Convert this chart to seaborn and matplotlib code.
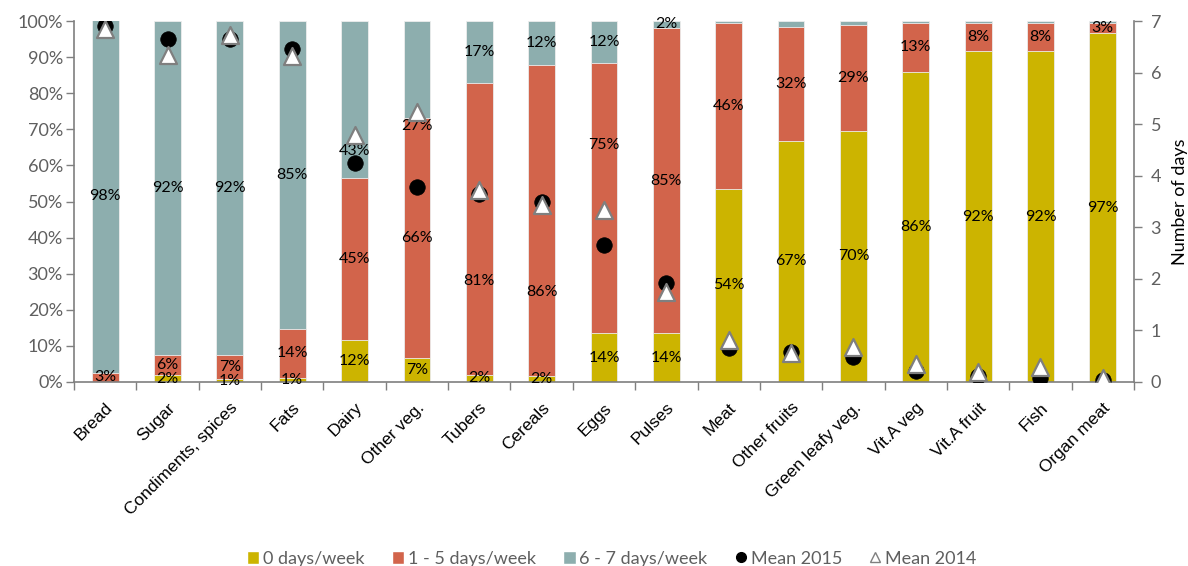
import numpy as np
import pandas as pd
import matplotlib
matplotlib.use("Agg")
import matplotlib.pyplot as plt
import seaborn as sns
from matplotlib.lines import Line2D
from matplotlib.patches import Patch
from matplotlib.ticker import FixedLocator

# ---------------- data ----------------
categories = ["Bread", "Sugar", "Condiments, spices", "Fats", "Dairy", "Other veg.",
              "Tubers", "Cereals", "Eggs", "Pulses", "Meat", "Other fruits",
              "Green leafy veg.", "Vit.A veg", "Vit.A fruit", "Fish", "Organ meat"]
zero_days = [0.0, 1.9, 0.8, 1.2, 11.6, 6.6, 2.0, 1.6, 13.5, 13.5, 53.6, 66.8, 69.6, 86.0, 91.6, 91.6, 96.6]
one_five_days = [2.6, 5.7, 6.8, 13.5, 45.0, 66.4, 80.9, 86.2, 74.8, 84.6, 45.9, 31.6, 29.4, 13.4, 7.9, 7.9, 2.9]
six_seven_days = [97.6, 92.4, 92.4, 85.3, 43.4, 27.0, 17.1, 12.2, 11.7, 1.9, 0.5, 1.6, 1.0, 0.6, 0.5, 0.5, 0.5]
mean_2015 = [6.90, 6.65, 6.65, 6.46, 4.24, 3.78, 3.65, 3.50, 2.66, 1.91, 0.65, 0.59, 0.49, 0.22, 0.12, 0.07, 0.04]
mean_2014 = [6.85, 6.34, 6.73, 6.32, 4.79, 5.24, 3.72, 3.43, 3.34, 1.75, 0.81, 0.56, 0.68, 0.34, 0.20, 0.30, 0.07]
series_names = ["0 days/week", "1 - 5 days/week", "6 - 7 days/week"]
mean_names = ["Mean 2015", "Mean 2014"]
pct_ticks = list(range(0, 101, 10))
day_ticks = list(range(0, 8))
hidden_teal_labels = ["Meat", "Other fruits", "Green leafy veg.", "Vit.A veg",
                      "Vit.A fruit", "Fish", "Organ meat"]

# label nudges (percentage points), mimicking manually moved data labels
label_nudge = {("6 - 7 days/week", "Dairy"): -14.3,
               ("6 - 7 days/week", "Other veg."): -15.5,
               ("1 - 5 days/week", "Tubers"): -14.6,
               ("1 - 5 days/week", "Cereals"): -19.7,
               ("1 - 5 days/week", "Eggs"): 14.7}

YELLOW = "#CCB400"
RED = "#D2644B"
TEAL = "#8DAEAE"
GRAY = "#7F7F7F"
TXT = "#5F5F5F"

sns.set_style("white")
plt.rcParams["font.family"] = ["Lato", "DejaVu Sans"]

fig = plt.figure(figsize=(11.88, 5.66), dpi=100)
ax = fig.add_axes([74 / 1188, 1 - 382 / 566, (1134 - 74) / 1188, (382 - 21) / 566])

df = pd.DataFrame({"category": categories, "zero": zero_days,
                   "mid": one_five_days, "high": six_seven_days})
df["cum_mid"] = df["zero"] + df["mid"]
df["cum_high"] = df["cum_mid"] + df["high"]

for col, color in [("cum_high", TEAL), ("cum_mid", RED), ("zero", YELLOW)]:
    sns.barplot(data=df, x="category", y=col, color=color, saturation=1,
                width=0.43, ax=ax, edgecolor="#EDEDED", linewidth=0.6, errorbar=None)

# data labels
bottoms = np.zeros(len(categories))
for name, vals in zip(series_names, [zero_days, one_five_days, six_seven_days]):
    for i, (c, v) in enumerate(zip(categories, vals)):
        show = v > 0 and not (name == "6 - 7 days/week" and c in hidden_teal_labels)
        if show:
            y = bottoms[i] + v / 2 + label_nudge.get((name, c), 0)
            ax.text(i, y, f"{v:.0f}%", ha="center", va="center", fontsize=11.5,
                    color="black", zorder=5)
        bottoms[i] += v

ax.set_xlim(-0.5, len(categories) - 0.5)
ax.set_ylim(0, 100)
ax.set_yticks(pct_ticks)
ax.set_yticklabels([f"{t}%" for t in pct_ticks])
ax.set_xlabel("")
ax.set_ylabel("")
ax.set_xticks(range(len(categories)))
ax.set_xticklabels(categories, rotation=45, ha="right", rotation_mode="anchor",
                   fontsize=12.5, family="Liberation Sans", color="black")
ax.xaxis.set_minor_locator(FixedLocator(np.arange(-0.5, len(categories), 1.0)))
ax.tick_params(axis="x", which="major", length=0, pad=13)
ax.tick_params(axis="x", which="minor", bottom=True, length=6, width=1, color=GRAY, direction="out")
ax.tick_params(axis="y", left=True, length=6, width=1, color=GRAY, direction="out",
               labelsize=13, labelcolor=TXT, pad=2)
for s in ["top", "right"]:
    ax.spines[s].set_visible(False)
for s in ["left", "bottom"]:
    ax.spines[s].set_color(GRAY)
    ax.spines[s].set_linewidth(1.2)

# means on secondary axis
ax2 = ax.twinx()
xpos = np.arange(len(categories))
sns.scatterplot(x=xpos, y=mean_2015, ax=ax2, marker="o", s=125, color="black",
                edgecolor="black", linewidth=0.5, zorder=6)
sns.scatterplot(x=xpos, y=mean_2014, ax=ax2, marker="^", s=150, color="white",
                edgecolor=GRAY, linewidth=1.6, zorder=7)
ax2.set_xlim(-0.5, len(categories) - 0.5)
ax2.set_ylim(0, 7)
ax2.set_yticks(day_ticks)
ax2.tick_params(axis="y", right=True, length=6, width=1, color=GRAY, direction="out",
                labelsize=13, labelcolor=TXT, pad=6)
ax2.set_ylabel("Number of days", fontsize=13, color="black", labelpad=8)
for s in ["top", "left", "bottom"]:
    ax2.spines[s].set_visible(False)
ax2.spines["right"].set_color(GRAY)
ax2.spines["right"].set_linewidth(1.2)

handles = [Patch(facecolor=YELLOW), Patch(facecolor=RED), Patch(facecolor=TEAL),
           Line2D([], [], ls="none", marker="o", color="black", ms=7),
           Line2D([], [], ls="none", marker="^", mfc="white", mec=GRAY, ms=7)]
leg = fig.legend(handles, series_names + mean_names, loc="lower center",
                 bbox_to_anchor=(0.515, -0.03), ncol=5, frameon=False,
                 prop={"size": 13},
                 handlelength=0.7, handleheight=0.7, handletextpad=0.2, columnspacing=1.5)
for t in leg.get_texts():
    t.set_color(TXT)

fig.savefig("out.png", dpi=100)
